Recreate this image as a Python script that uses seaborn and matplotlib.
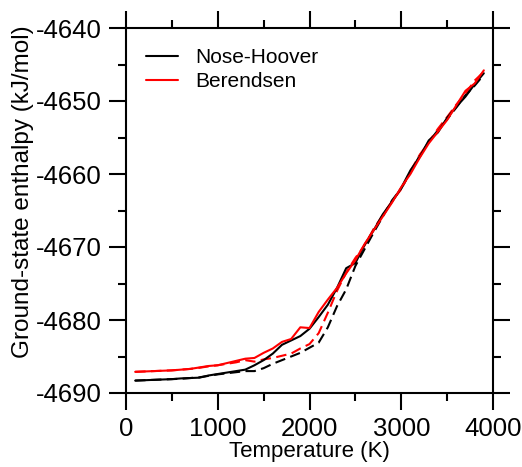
import numpy as np
import pandas as pd
import matplotlib
matplotlib.use("Agg")
import matplotlib.pyplot as plt
from matplotlib.ticker import MultipleLocator
import seaborn as sns

temperature = [100, 200, 300, 400, 500, 600, 700, 800, 900, 1000,
               1100, 1200, 1300, 1400, 1500, 1600, 1700, 1800, 1900, 2000,
               2100, 2200, 2300, 2400, 2500, 2600, 2700, 2800, 2900, 3000,
               3100, 3200, 3300, 3400, 3500, 3600, 3700, 3800, 3900]

nh_solid = [-4688.3, -4688.25, -4688.2, -4688.15, -4688.1, -4688.0, -4687.95, -4687.9, -4687.6, -4687.4,
            -4687.2, -4687.0, -4686.8, -4686.2, -4685.5, -4684.6, -4683.4, -4682.8, -4682.2, -4681.2,
            -4679.6, -4677.9, -4675.6, -4672.9, -4672.2, -4669.7, -4667.7, -4665.5, -4663.8, -4661.9,
            -4659.5, -4657.7, -4655.4, -4654.3, -4652.3, -4650.8, -4649.4, -4647.7, -4646.2]

nh_dashed = [-4688.3, -4688.25, -4688.2, -4688.15, -4688.1, -4688.05, -4687.95, -4687.85, -4687.65, -4687.45,
             -4687.3, -4687.15, -4687.0, -4687.0, -4686.6, -4686.0, -4685.5, -4685.0, -4684.5, -4683.8,
             -4683.1, -4681.0, -4678.1, -4675.8, -4672.6, -4670.3, -4668.0, -4665.8, -4663.6, -4662.0,
             -4659.8, -4657.5, -4655.6, -4654.0, -4652.5, -4650.9, -4649.2, -4647.9, -4646.4]

ber_solid = [-4687.1, -4687.05, -4687.0, -4686.95, -4686.9, -4686.8, -4686.7, -4686.5, -4686.3, -4686.2,
             -4685.9, -4685.6, -4685.3, -4685.2, -4684.5, -4683.9, -4683.0, -4682.6, -4681.0, -4681.1,
             -4678.9, -4677.2, -4675.6, -4673.6, -4671.8, -4669.6, -4667.7, -4665.8, -4663.9, -4661.8,
             -4660.0, -4657.8, -4655.8, -4654.2, -4652.6, -4650.6, -4648.6, -4647.6, -4645.8]

ber_dashed = [-4687.1, -4687.05, -4687.0, -4686.95, -4686.9, -4686.8, -4686.7, -4686.55, -4686.35, -4686.2,
              -4686.0, -4685.8, -4685.5, -4685.7, -4685.4, -4685.2, -4684.9, -4684.6, -4683.9, -4683.3,
              -4681.8, -4679.0, -4676.0, -4673.5, -4671.5, -4669.8, -4667.5, -4665.6, -4663.7, -4662.1,
              -4659.6, -4657.4, -4655.6, -4653.8, -4652.2, -4650.5, -4649.0, -4647.2, -4646.0]

series_labels = ["Nose-Hoover", "Berendsen"]
x_ticks = [0, 1000, 2000, 3000, 4000]
y_ticks = [-4690, -4680, -4670, -4660, -4650, -4640]

sns.set_theme(style="white")
plt.rcParams["font.family"] = ["Liberation Sans", "DejaVu Sans"]
plt.rcParams["axes.unicode_minus"] = False
plt.rcParams["text.color"] = "black"
plt.rcParams["axes.labelcolor"] = "black"
plt.rcParams["xtick.color"] = "black"
plt.rcParams["ytick.color"] = "black"

fig = plt.figure(figsize=(5.22, 4.67), dpi=100)
ax = fig.add_axes([126 / 522, 1 - 393 / 467, (493 - 126) / 522, (393 - 28) / 467])

dash = (0, (5, 2.6))
sns.lineplot(x=temperature, y=nh_dashed, ax=ax, color="black", lw=1.5, linestyle=dash)
sns.lineplot(x=temperature, y=ber_dashed, ax=ax, color="#ff0000", lw=1.5, linestyle=dash)
sns.lineplot(x=temperature, y=nh_solid, ax=ax, color="black", lw=1.5, label=series_labels[0])
sns.lineplot(x=temperature, y=ber_solid, ax=ax, color="#ff0000", lw=1.5, label=series_labels[1])

ax.set_xlim(0, 4000)
ax.set_ylim(-4690, -4640)
ax.set_xticks(x_ticks)
ax.set_yticks(y_ticks)
ax.xaxis.set_minor_locator(MultipleLocator(500))
ax.yaxis.set_minor_locator(MultipleLocator(5))
ax.tick_params(which="both", direction="out", top=True, right=True,
               bottom=True, left=True, labeltop=False, labelright=False,
               width=1.5, color="black", labelcolor="black")
ax.tick_params(which="major", length=12.2, labelsize=18.5, pad=5)
ax.tick_params(which="minor", length=5.8)
for s in ax.spines.values():
    s.set_linewidth(1.5)
    s.set_color("black")
    s.set_visible(True)

ax.set_xlabel("Temperature (K)", fontsize=16, labelpad=0)
ax.set_ylabel("Ground-state enthalpy (kJ/mol)", fontsize=17.5)
ax.yaxis.set_label_coords(-0.25, 0.551)

leg = ax.legend(loc="upper left", frameon=False, fontsize=15,
                handlelength=1.55, handletextpad=0.8, labelspacing=0.25,
                borderaxespad=0.2, bbox_to_anchor=(0.02, 0.98))
for h in leg.get_lines():
    h.set_linewidth(1.5)

fig.savefig("out.png", dpi=100)
